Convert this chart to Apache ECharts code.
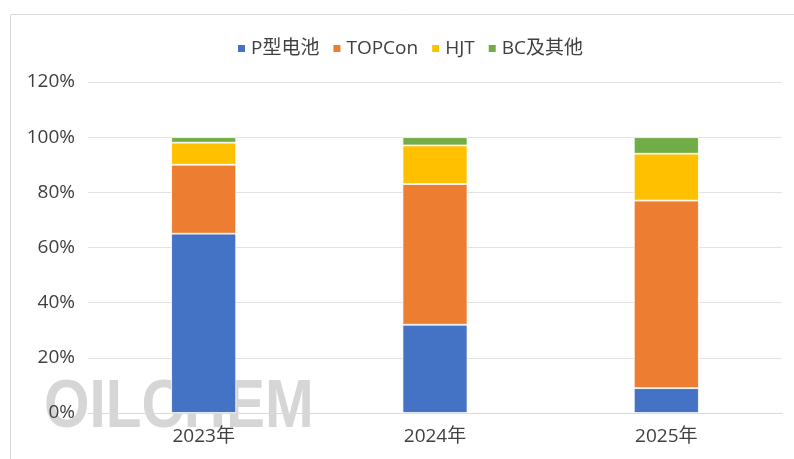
<!DOCTYPE html>
<html>
<head>
<meta charset="utf-8">
<script src="https://cdn.jsdelivr.net/npm/echarts@6/dist/echarts.min.js"></script>
<style>html,body{margin:0;padding:0;background:#fff}#c{width:794px;height:459px}</style>
</head>
<body>
<div id="c"></div>
<script>
const categories = ['2023年', '2024年', '2025年'];
const pType = [65, 32, 9];
const topcon = [25, 51, 68];
const hjt = [8, 14, 17];
const bcOther = [2, 3, 6];
const yTicks = [0, 20, 40, 60, 80, 100, 120];

const FONT = '"Open Sans", "Noto Sans CJK SC", sans-serif';
const chart = echarts.init(document.getElementById('c'));
const mk = (name, data, color) => ({
  name, type: 'bar', stack: 'total', data, barWidth: 65, z: 5,
  itemStyle: { color, borderColor: '#ffffff', borderWidth: 0.8 },
  emphasis: { disabled: true }
});
chart.setOption({
  animation: false,
  backgroundColor: '#ffffff',
  graphic: [
    { type: 'rect', shape: { x: 10.5, y: 14.5, width: 800, height: 460 }, style: { fill: 'none', stroke: '#d9d9d9', lineWidth: 1 }, z: -1 },
    { type: 'text', x: 44, y: 408, scaleX: 0.86, z: -1,
      style: { text: 'OILCHEM', x: 0, y: 0, verticalAlign: 'middle',
        font: 'bold 68px "Liberation Sans", sans-serif',
        fill: '#d6d6d6' } }
  ],
  legend: {
    left: 231, top: 34,
    icon: 'rect', itemWidth: 9, itemHeight: 9, itemGap: 12,
    textStyle: { fontFamily: FONT, fontSize: 19, color: '#404040' },
    data: ['P型电池', 'TOPCon', 'HJT', 'BC及其他']
  },
  grid: { left: 88, right: 12, top: 82, bottom: 46 },
  xAxis: {
    type: 'category', data: categories,
    axisLine: { lineStyle: { color: '#d9d9d9' } },
    axisTick: { show: false },
    axisLabel: { fontFamily: FONT, fontSize: 19, color: '#404040', margin: 14 }
  },
  yAxis: {
    type: 'value', min: yTicks[0], max: yTicks[yTicks.length - 1], interval: 20,
    axisLine: { show: false }, axisTick: { show: false },
    splitLine: { lineStyle: { color: '#e3e3e3' } },
    axisLabel: { fontFamily: FONT, fontSize: 19, color: '#404040', margin: 13, formatter: v => v + '%' }
  },
  series: [
    mk('P型电池', pType, '#4472C4'),
    mk('TOPCon', topcon, '#ED7D31'),
    mk('HJT', hjt, '#FFC000'),
    mk('BC及其他', bcOther, '#70AD47')
  ]
});
</script>
</body>
</html>
